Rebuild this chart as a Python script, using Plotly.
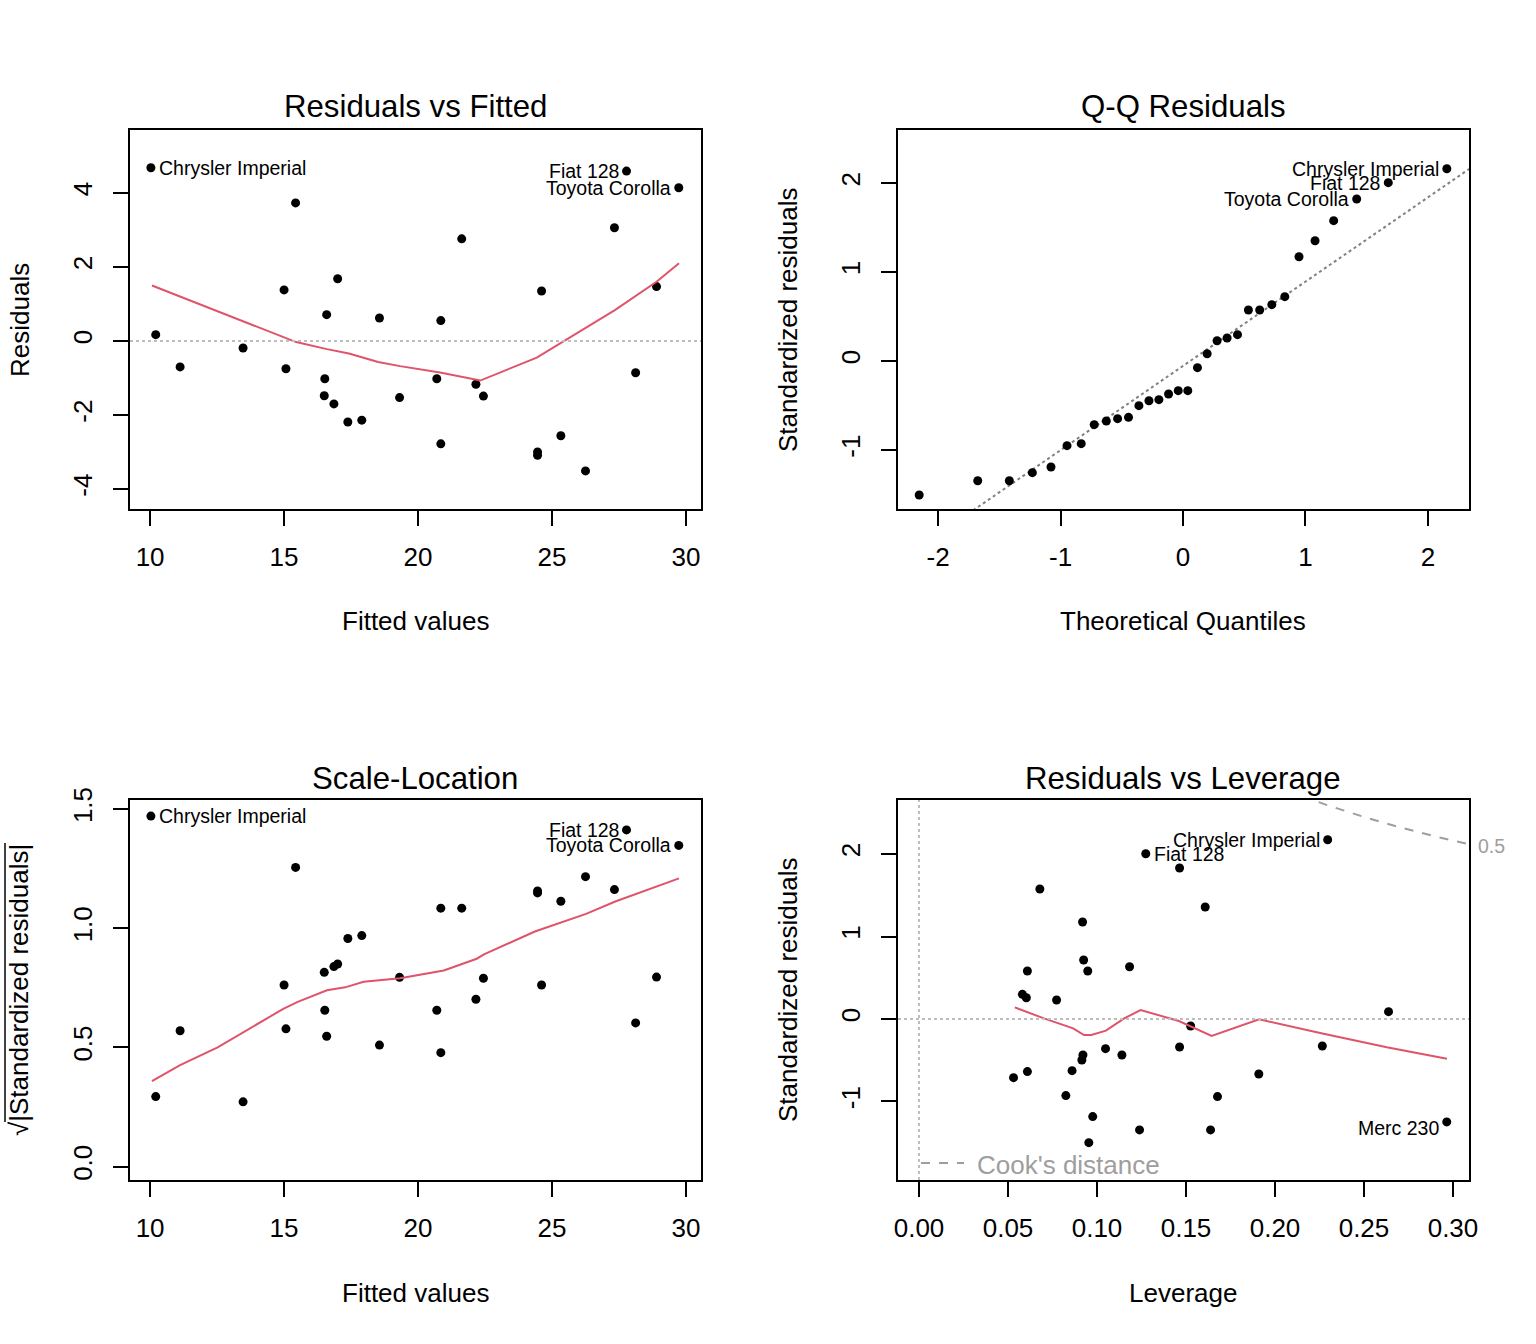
import plotly.graph_objects as go

# ---------------- data ----------------
# Residuals vs Fitted / Scale-Location share fitted values
fitted = [10.03, 27.78, 29.73, 15.43, 21.63, 27.33, 28.90, 24.61, 15.00, 17.00,
          16.59, 18.56, 20.85, 10.21, 13.47, 11.12, 15.07, 16.52, 20.70, 22.16,
          16.50, 16.86, 19.31, 22.44, 28.12, 17.38, 17.90, 20.85, 25.33, 24.46,
          24.46, 26.25]
residuals = [4.68, 4.59, 4.14, 3.73, 2.76, 3.06, 1.47, 1.35, 1.38, 1.68,
             0.71, 0.62, 0.55, 0.17, -0.19, -0.70, -0.75, -1.02, -1.02, -1.17,
             -1.48, -1.70, -1.53, -1.49, -0.86, -2.19, -2.14, -2.78, -2.56, -3.00,
             -3.09, -3.51]
sqrt_abs_std_resid = [1.470, 1.412, 1.347, 1.255, 1.084, 1.162, 0.795, 0.762, 0.762, 0.850,
                      0.547, 0.510, 0.478, 0.294, 0.272, 0.570, 0.578, 0.656, 0.656, 0.702,
                      0.815, 0.839, 0.794, 0.790, 0.603, 0.957, 0.969, 1.084, 1.113, 1.148,
                      1.156, 1.216]
fitted_labels = {0: "Chrysler Imperial", 1: "Fiat 128", 2: "Toyota Corolla"}

# smoother lines (red)
rvf_smooth_x = [10.07, 14.97, 15.45, 16.60, 17.42, 18.51, 19.33, 20.82, 22.32, 24.43, 25.45, 27.36, 28.90, 29.74]
rvf_smooth_y = [1.50, 0.10, -0.03, -0.22, -0.34, -0.57, -0.68, -0.85, -1.07, -0.45, 0.00, 0.84, 1.60, 2.10]
sl_smooth_x = [10.07, 11.12, 12.52, 13.61, 14.97, 15.51, 16.60, 17.28, 17.97, 19.33, 20.96, 22.19, 22.46,
               24.36, 26.27, 27.36, 28.17, 29.74]
sl_smooth_y = [0.359, 0.426, 0.500, 0.573, 0.662, 0.691, 0.740, 0.752, 0.775, 0.790, 0.823, 0.872, 0.890,
               0.986, 1.060, 1.112, 1.146, 1.209]

# Q-Q residuals
qq_theoretical = [-2.154, -1.676, -1.418, -1.230, -1.078, -0.947, -0.831, -0.725, -0.626, -0.534,
                  -0.445, -0.360, -0.278, -0.197, -0.118, -0.039, 0.039, 0.118, 0.197, 0.278,
                  0.360, 0.445, 0.534, 0.626, 0.725, 0.831, 0.947, 1.078, 1.230, 1.418,
                  1.676, 2.154]
qq_std_resid = [-1.506, -1.345, -1.345, -1.255, -1.191, -0.951, -0.929, -0.715, -0.674, -0.648,
                -0.633, -0.502, -0.446, -0.434, -0.371, -0.333, -0.333, -0.075, 0.082, 0.228,
                0.258, 0.296, 0.573, 0.573, 0.633, 0.723, 1.172, 1.352, 1.577, 1.820,
                2.004, 2.161]
qq_labels = {31: "Chrysler Imperial", 30: "Fiat 128", 29: "Toyota Corolla"}
qq_line_x = [-2.4, 2.4]
qq_line_y = [-2.328, 2.218]

# Residuals vs Leverage
leverage = [0.2296, 0.1274, 0.1464, 0.0679, 0.1608, 0.0919, 0.0925, 0.0948, 0.1183, 0.0609,
            0.0581, 0.0603, 0.0773, 0.2638, 0.1526, 0.1464, 0.2266, 0.1048, 0.1140, 0.0921,
            0.0915, 0.0860, 0.0609, 0.0531, 0.1909, 0.0825, 0.1677, 0.0976, 0.1239, 0.1638,
            0.0954, 0.2965]
lev_std_resid = [2.173, 2.004, 1.830, 1.576, 1.358, 1.176, 0.715, 0.582, 0.634, 0.582,
                 0.299, 0.258, 0.230, 0.089, -0.085, -0.339, -0.327, -0.360, -0.436, -0.436,
                 -0.497, -0.626, -0.638, -0.711, -0.667, -0.929, -0.941, -1.183, -1.345, -1.345,
                 -1.499, -1.248]
lev_labels = {0: ("Chrysler Imperial", "left"), 1: ("Fiat 128", "right"), 31: ("Merc 230", "left")}
lev_smooth_x = [0.0538, 0.0702, 0.0866, 0.0927, 0.0968, 0.1050, 0.1153, 0.1245, 0.1460, 0.1644,
                0.1911, 0.2260, 0.2628, 0.2966]
lev_smooth_y = [0.141, 0.008, -0.113, -0.194, -0.194, -0.141, 0.008, 0.109, -0.024, -0.206,
                -0.004, -0.174, -0.343, -0.481]
cook_x = [0.215, 0.23, 0.25, 0.27, 0.29, 0.31, 0.33]
cook_y = [2.702, 2.588, 2.449, 2.325, 2.213, 2.110, 2.015]

# ---------------- layout helpers ----------------
W, H = 1536, 1344


def X(px):
    return px / W


def Y(py):
    return 1 - py / H


FONT = "Liberation Sans, Arial, sans-serif"
BASE = 26
RED = "#DF536B"
GRAY = "#BEBEBE"
DGRAY = "#9E9E9E"

fig = go.Figure()


def add_points(x, y, xa, ya):
    fig.add_trace(go.Scatter(x=x, y=y, mode="markers", xaxis=xa, yaxis=ya,
                             marker=dict(color="black", size=9, line=dict(width=0)),
                             showlegend=False, hoverinfo="skip"))


def add_line(x, y, xa, ya, color, dash="solid", width=2):
    fig.add_trace(go.Scatter(x=x, y=y, mode="lines", xaxis=xa, yaxis=ya,
                             line=dict(color=color, width=width, dash=dash),
                             showlegend=False, hoverinfo="skip"))


# Panel 1: Residuals vs Fitted
add_points(fitted, residuals, "x", "y")
add_line(rvf_smooth_x, rvf_smooth_y, "x", "y", RED)

# Panel 2: Q-Q
add_line(qq_line_x, qq_line_y, "x2", "y2", "#808080", dash="dot", width=2)
add_points(qq_theoretical, qq_std_resid, "x2", "y2")

# Panel 3: Scale-Location
add_points(fitted, sqrt_abs_std_resid, "x3", "y3")
add_line(sl_smooth_x, sl_smooth_y, "x3", "y3", RED)

# Panel 4: Residuals vs Leverage
add_line(cook_x, cook_y, "x4", "y4", DGRAY, dash="dash", width=2)
add_points(leverage, lev_std_resid, "x4", "y4")
add_line(lev_smooth_x, lev_smooth_y, "x4", "y4", RED)

shapes = [
    dict(type="line", xref="x domain", yref="y", x0=0, x1=1, y0=0, y1=0,
         line=dict(color=GRAY, width=2, dash="dot")),
    dict(type="line", xref="x4 domain", yref="y4", x0=0, x1=1, y0=0, y1=0,
         line=dict(color=GRAY, width=2, dash="dot")),
    dict(type="line", xref="x4", yref="y4 domain", x0=0, x1=0, y0=0, y1=1,
         line=dict(color=GRAY, width=2, dash="dot")),
    # legend sample for Cook's distance
    dict(type="line", xref="paper", yref="paper", x0=X(921), x1=X(964), y0=Y(1163), y1=Y(1163),
         line=dict(color=DGRAY, width=2, dash="dash")),
    # overline of the square-root sign in the Scale-Location y title
    dict(type="line", xref="paper", yref="paper", x0=X(5), x1=X(5), y0=Y(843), y1=Y(1122),
         line=dict(color="black", width=1.5)),
]

annotations = []


def txt(px, py, text, size=BASE, color="black", angle=0, xanchor="center", yanchor="middle"):
    annotations.append(dict(x=X(px), y=Y(py), xref="paper", yref="paper", text=text,
                            showarrow=False, textangle=angle, xanchor=xanchor, yanchor=yanchor,
                            font=dict(family=FONT, size=size, color=color)))


TSIZE = BASE * 1.2
# panel titles
txt(415, 106, "Residuals vs Fitted", TSIZE)
txt(1183, 106, "Q-Q Residuals", TSIZE)
txt(415, 778, "Scale-Location", TSIZE)
txt(1183, 778, "Residuals vs Leverage", TSIZE)
# x titles
txt(415, 621, "Fitted values")
txt(1183, 621, "Theoretical Quantiles")
txt(415, 1293, "Fitted values")
txt(1183, 1293, "Leverage")
# y titles
txt(20, 320, "Residuals", angle=-90)
txt(788, 320, "Standardized residuals", angle=-90)
txt(19, 990, "\u221a|Standardized residuals|", angle=-90)
txt(788, 990, "Standardized residuals", angle=-90)
# Cook's distance legend and level label
txt(975, 1165, "Cook's distance", color=DGRAY, xanchor="left")
txt(1476, 846, "0.5", size=BASE * 0.75, color=DGRAY, xanchor="left")

LSIZE = BASE * 0.75


def point_label(i, xs, ys, text, side, xa, ya, yshift=0):
    annotations.append(dict(x=xs[i], y=ys[i], xref=xa, yref=ya, text=text, showarrow=False,
                            xanchor="left" if side == "right" else "right",
                            xshift=6 if side == "right" else -6, yshift=yshift,
                            font=dict(family=FONT, size=LSIZE, color="black")))


for i, name in fitted_labels.items():
    side = "right" if i == 0 else "left"
    point_label(i, fitted, residuals, name, side, "x", "y")
    point_label(i, fitted, sqrt_abs_std_resid, name, side, "x3", "y3")
for i, name in qq_labels.items():
    point_label(i, qq_theoretical, qq_std_resid, name, "left", "x2", "y2")
for i, (name, side) in lev_labels.items():
    point_label(i, leverage, lev_std_resid, name, side, "x4", "y4",
                yshift=-6 if name == "Merc 230" else 0)

axis_common = dict(showline=True, mirror=True, linecolor="black", linewidth=2,
                   ticks="outside", ticklen=15, tickwidth=2, tickcolor="black",
                   showgrid=False, zeroline=False, fixedrange=True,
                   tickfont=dict(family=FONT, size=BASE, color="black"))
xcommon = dict(axis_common, ticklabelstandoff=9)
ycommon = dict(axis_common, tickangle=-90, ticklabelstandoff=11)

fig.update_layout(
    width=W, height=H,
    margin=dict(l=0, r=0, t=0, b=0, autoexpand=False),
    paper_bgcolor="white", plot_bgcolor="white",
    showlegend=False,
    xaxis=dict(xcommon, domain=[X(130), X(701)], range=[9.25, 30.56], anchor="y",
               tickvals=[10, 15, 20, 25, 30], ticktext=["10", "15", "20", "25", "30"]),
    yaxis=dict(ycommon, domain=[Y(509), Y(130)], range=[-4.54, 5.70], anchor="x",
               tickvals=[-4, -2, 0, 2, 4], ticktext=["-4", "-2", "0", "2", "4"]),
    xaxis2=dict(xcommon, domain=[X(898), X(1469)], range=[-2.327, 2.335], anchor="y2",
                tickvals=[-2, -1, 0, 1, 2], ticktext=["-2", "-1", "0", "1", "2"]),
    yaxis2=dict(ycommon, domain=[Y(509), Y(130)], range=[-1.663, 2.596], anchor="x2",
                tickvals=[-1, 0, 1, 2], ticktext=["-1", "0", "1", "2"]),
    xaxis3=dict(xcommon, domain=[X(130), X(701)], range=[9.25, 30.56], anchor="y3",
                tickvals=[10, 15, 20, 25, 30], ticktext=["10", "15", "20", "25", "30"]),
    yaxis3=dict(ycommon, domain=[Y(1180), Y(800)], range=[-0.0558, 1.5375], anchor="x3",
                tickvals=[0, 0.5, 1, 1.5], ticktext=["0.0", "0.5", "1.0", "1.5"]),
    xaxis4=dict(xcommon, domain=[X(898), X(1469)], range=[-0.0118, 0.309], anchor="y4",
                tickvals=[0, 0.05, 0.10, 0.15, 0.20, 0.25, 0.30],
                ticktext=["0.00", "0.05", "0.10", "0.15", "0.20", "0.25", "0.30"]),
    yaxis4=dict(ycommon, domain=[Y(1180), Y(800)], range=[-1.952, 2.655], anchor="x4",
                tickvals=[-1, 0, 1, 2], ticktext=["-1", "0", "1", "2"]),
    shapes=shapes,
    annotations=annotations,
)

fig.write_html("out.html", config={"displayModeBar": False},
               post_script="document.body.style.margin='0';document.body.style.overflow='hidden';")
